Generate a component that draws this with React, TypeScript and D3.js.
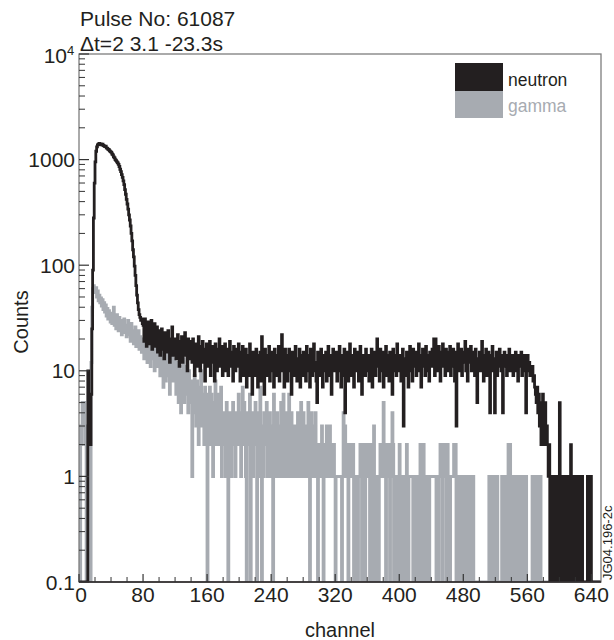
import React from 'react';
import * as d3 from 'd3';

// neutron counts per channel, 0..651
const neutron = [
  0, 0, 0, 0, 0, 0, 0, 0, 0, 0, 0, 10, 4, 3, 2, 6, 25, 90, 280, 600,
  950, 1200, 1320, 1380, 1400, 1420, 1390, 1410, 1380, 1400, 1360, 1350, 1330, 1340, 1290, 1280, 1250, 1240, 1210, 1190,
  1170, 1130, 1110, 1060, 1040, 1000, 980, 950, 930, 900, 860, 810, 770, 720, 680, 630, 580, 520, 470, 420,
  380, 340, 300, 268, 235, 200, 170, 140, 120, 98, 80, 64, 52, 44, 38, 34, 32, 30, 31, 28,
  27, 19, 31, 22, 17, 26, 29, 18, 24, 21, 30, 16, 25, 20, 28, 17, 23, 26, 15, 24,
  22, 14, 20, 25, 16, 19, 13, 23, 18, 21, 15, 24, 17, 12, 20, 18, 26, 14, 19, 16,
  20, 13, 18, 22, 15, 11, 19, 16, 21, 12, 17, 14, 23, 15, 18, 10, 20, 16, 13, 19,
  17, 12, 20, 14, 9, 16, 18, 11, 15, 21, 13, 10, 17, 14, 19, 12, 16, 8, 15, 18,
  11, 16, 13, 19, 9, 14, 17, 12, 15, 8, 18, 13, 10, 16, 14, 20, 11, 13, 17, 9,
  15, 12, 18, 10, 14, 16, 9, 13, 19, 11, 15, 12, 8, 17, 13, 10, 16, 14, 11, 18,
  12, 8, 15, 11, 17, 9, 13, 10, 16, 7, 12, 14, 9, 18, 11, 13, 6, 15, 10, 14,
  9, 16, 12, 7, 14, 11, 15, 8, 21, 10, 13, 6, 16, 12, 9, 14, 11, 17, 8, 13,
  15, 10, 12, 7, 16, 11, 14, 9, 13, 17, 8, 12, 15, 22, 10, 13, 7, 16, 11, 14,
  8, 13, 16, 10, 12, 6, 15, 11, 14, 9, 17, 12, 8, 13, 10, 16, 7, 14, 12, 9,
  15, 11, 13, 8, 17, 10, 12, 14, 7, 16, 11, 9, 13, 18, 10, 12, 8, 5, 15, 11,
  13, 9, 16, 11, 7, 14, 12, 10, 15, 8, 13, 17, 11, 9, 14, 6, 12, 16, 10, 13,
  11, 15, 8, 13, 10, 17, 12, 7, 14, 11, 9, 16, 4, 13, 10, 15, 8, 12, 18, 11,
  9, 14, 12, 7, 16, 10, 13, 11, 15, 8, 12, 17, 10, 6, 14, 11, 13, 9, 16, 12,
  10, 14, 8, 13, 11, 16, 7, 12, 15, 10, 9, 14, 20, 11, 13, 8, 16, 10, 12, 15,
  7, 13, 11, 17, 9, 12, 14, 8, 15, 11, 13, 6, 16, 10, 12, 14, 9, 18, 11, 13,
  10, 14, 8, 12, 16, 3, 13, 11, 9, 15, 12, 7, 14, 17, 10, 12, 8, 16, 11, 13,
  15, 9, 13, 11, 18, 10, 14, 7, 12, 16, 11, 13, 9, 17, 12, 10, 14, 8, 15, 12,
  11, 16, 13, 20, 9, 20, 12, 14, 10, 17, 13, 8, 15, 12, 18, 11, 14, 9, 16, 13,
  10, 15, 12, 17, 9, 14, 11, 16, 13, 8, 15, 3, 12, 18, 10, 14, 11, 16, 9, 13,
  12, 15, 19, 10, 14, 8, 16, 12, 13, 17, 10, 14, 11, 15, 9, 16, 12, 5, 13, 11,
  15, 10, 13, 19, 12, 8, 14, 11, 16, 9, 13, 15, 10, 4, 14, 12, 17, 10, 13, 4,
  12, 15, 9, 14, 11, 16, 13, 10, 14, 4, 12, 15, 11, 13, 9, 14, 12, 16, 10, 13,
  11, 14, 9, 13, 12, 15, 10, 13, 8, 14, 11, 12, 15, 9, 13, 11, 14, 10, 4, 12,
  14, 10, 12, 9, 11, 10, 11, 8, 9, 7, 6, 5, 7, 4, 6, 3, 5, 2, 4, 6,
  2, 3, 5, 2, 3, 2, 1, 2, 0, 1, 1, 0, 1, 1, 1, 0, 1, 1, 0, 1,
  5, 0, 1, 1, 0, 1, 0, 0, 1, 0, 1, 0, 0, 1, 2, 0, 0, 1, 1, 0,
  1, 0, 1, 1, 0, 1, 1, 0, 1, 0, 0, 0, 0, 0, 0, 1, 0, 0, 0, 1,
  0, 0, 0, 0, 0, 0, 0, 0, 0, 0, 0, 0,
];

// gamma counts per channel, 0..651
const gamma = [
  3, 0, 3, 2, 5, 4, 5, 3, 2, 0, 3, 0, 2, 5, 0, 12, 40, 60, 64, 58,
  55, 61, 50, 57, 46, 52, 44, 49, 41, 47, 38, 44, 36, 42, 33, 39, 31, 37, 34, 29,
  35, 28, 33, 40, 27, 31, 25, 34, 29, 24, 32, 26, 30, 22, 28, 25, 31, 23, 27, 21,
  26, 30, 22, 25, 19, 28, 21, 24, 18, 23, 26, 17, 22, 19, 24, 16, 21, 18, 15, 20,
  19, 13, 22, 15, 18, 12, 21, 14, 17, 11, 20, 15, 13, 18, 10, 16, 14, 19, 11, 15,
  14, 9, 16, 10, 13, 7, 15, 11, 8, 17, 12, 9, 14, 6, 12, 10, 15, 8, 11, 13,
  10, 6, 12, 8, 5, 11, 9, 4, 10, 7, 13, 5, 8, 11, 6, 9, 4, 10, 7, 5,
  8, 1, 7, 4, 9, 5, 3, 8, 6, 2, 7, 4, 10, 3, 6, 5, 2, 7, 4, 6,
  0, 5, 3, 7, 2, 6, 4, 1, 5, 3, 8, 2, 4, 6, 2, 5, 3, 7, 1, 4,
  2, 4, 3, 1, 5, 2, 0, 3, 4, 2, 1, 3, 5, 2, 3, 1, 4, 2, 3, 6,
  2, 4, 1, 3, 7, 2, 5, 3, 1, 0, 4, 2, 3, 6, 0, 2, 4, 1, 3, 2,
  5, 3, 0, 2, 4, 1, 7, 3, 0, 2, 1, 4, 3, 2, 5, 1, 3, 2, 4, 1,
  3, 2, 0, 6, 2, 1, 3, 4, 2, 1, 3, 2, 5, 1, 2, 6, 3, 1, 4, 2,
  1, 3, 6, 2, 1, 4, 2, 3, 1, 2, 3, 1, 2, 4, 1, 2, 3, 5, 1, 2,
  4, 1, 2, 3, 1, 2, 5, 1, 0, 2, 4, 1, 3, 2, 1, 4, 2, 1, 0, 2,
  1, 2, 1, 3, 1, 0, 2, 1, 1, 3, 1, 2, 1, 3, 1, 2, 2, 1, 2, 1,
  0, 1, 1, 1, 1, 1, 1, 1, 0, 1, 4, 2, 3, 1, 2, 1, 0, 1, 2, 2,
  2, 1, 2, 0, 1, 1, 0, 1, 0, 1, 1, 2, 1, 0, 2, 2, 1, 0, 1, 2,
  2, 1, 2, 0, 1, 2, 0, 1, 3, 0, 1, 0, 1, 1, 0, 1, 2, 2, 1, 2,
  5, 1, 2, 0, 2, 1, 2, 1, 0, 2, 1, 4, 2, 0, 1, 0, 1, 0, 1, 0,
  2, 0, 1, 0, 1, 1, 0, 1, 0, 2, 1, 0, 1, 1, 1, 1, 1, 0, 1, 0,
  1, 0, 1, 0, 1, 0, 2, 1, 2, 0, 2, 1, 0, 1, 0, 1, 1, 0, 1, 1,
  1, 1, 1, 1, 1, 1, 0, 1, 0, 1, 1, 2, 2, 0, 2, 2, 1, 2, 0, 1,
  2, 0, 1, 0, 1, 1, 1, 1, 2, 2, 2, 0, 1, 0, 1, 1, 0, 1, 0, 1,
  0, 1, 1, 0, 1, 0, 1, 1, 1, 0, 1, 0, 1, 0, 0, 0, 0, 0, 0, 0,
  0, 0, 0, 0, 0, 0, 0, 0, 0, 0, 0, 0, 1, 0, 1, 1, 0, 1, 0, 1,
  1, 0, 1, 0, 0, 0, 0, 0, 1, 0, 1, 1, 0, 1, 0, 1, 2, 0, 2, 1,
  0, 1, 0, 1, 1, 0, 1, 0, 1, 0, 0, 1, 0, 1, 1, 0, 1, 0, 1, 0,
  0, 0, 0, 0, 0, 0, 1, 0, 1, 1, 0, 1, 0, 1, 1, 0, 1, 0, 0, 0,
  0, 0, 0, 0, 0, 0, 0, 0, 0, 0, 0, 0, 0, 0, 0, 0, 0, 0, 0, 0,
  0, 0, 0, 0, 0, 0, 0, 0, 0, 0, 0, 0, 0, 0, 0, 0, 0, 0, 0, 0,
  0, 0, 0, 0, 0, 0, 0, 0, 0, 0, 0, 0, 0, 0, 0, 0, 0, 0, 0, 0,
  0, 0, 0, 0, 0, 0, 0, 0, 0, 0, 0, 0,
];

const xTicks = [0, 80, 160, 240, 320, 400, 480, 560, 640];
const yTicks = [0.1, 1, 10, 100, 1000];
const yTickLabels = ['0.1', '1', '10', '100', '1000'];

const font = 'Liberation Sans, Arial, Helvetica, sans-serif';
const black = '#231f20';
const grey = '#a7abb1';
const frameColor = '#7d7d7d';

const left = 79, right = 601, top = 54, bottom = 582;

const x = d3.scaleLinear().domain([0, 652]).range([left, right]);
const y = d3.scaleLog().domain([0.1, 1e4]).range([bottom, top]);

function histPath(vals: number[]) {
  const pts: [number, number][] = vals.map((v, i) => [i, Math.max(v, 0.1)]);
  pts.push([vals.length, Math.max(vals[vals.length - 1], 0.1)]);
  const line = d3.line<[number, number]>()
    .x(d => x(d[0]))
    .y(d => y(d[1]))
    .curve(d3.curveStepAfter);
  return line(pts) || '';
}

const App = () => {
  const minorX = d3.range(0, 641, 20).filter(v => v % 80 !== 0);
  const minorY: number[] = [];
  [-1, 0, 1, 2, 3].forEach(e => {
    for (let k = 2; k <= 9; k++) minorY.push(k * Math.pow(10, e));
  });

  return (
    <svg width={614} height={640} style={{ display: 'block', position: 'absolute', left: 0, top: 0 }}>
      <rect width={614} height={640} fill="white" />
      <defs>
        <clipPath id="plot">
          <rect x={left} y={top} width={right - left} height={bottom - top} />
        </clipPath>
      </defs>

      <g clipPath="url(#plot)">
        <path d={histPath(gamma)} fill="none" stroke={grey} strokeWidth={3} />
        <path d={histPath(neutron)} fill="none" stroke={black} strokeWidth={2.8} />
      </g>

      {/* frame */}
      <rect x={left} y={top} width={right - left} height={bottom - top} fill="none" stroke={frameColor} strokeWidth={1.3} />
      <line x1={left} x2={right} y1={bottom} y2={bottom} stroke={black} strokeWidth={1.5} />

      {/* y ticks */}
      {yTicks.concat([1e4]).map(v => (
        <line key={'ym' + v} x1={left} x2={left + 10} y1={y(v)} y2={y(v)} stroke="#333" strokeWidth={1.2} />
      ))}
      {minorY.map(v => (
        <line key={'yn' + v} x1={left} x2={left + 6} y1={y(v)} y2={y(v)} stroke="#333" strokeWidth={1} />
      ))}
      {yTicks.map((v, i) => (
        <text key={'yl' + v} x={left - 4} y={y(v) + 7.5} textAnchor="end" fontFamily={font} fontSize={21} fill={black}>
          {yTickLabels[i]}
        </text>
      ))}
      <text x={left - 12} y={y(1e4) + 9} textAnchor="end" fontFamily={font} fontSize={21} fill={black}>10</text>
      <text x={left - 12} y={y(1e4) + 1} textAnchor="start" fontFamily={font} fontSize={13} fill={black}>4</text>

      {/* x ticks */}
      {xTicks.map(v => (
        <line key={'xm' + v} x1={x(v)} x2={x(v)} y1={bottom} y2={bottom - 8} stroke="#333" strokeWidth={1.2} />
      ))}
      {minorX.map(v => (
        <line key={'xn' + v} x1={x(v)} x2={x(v)} y1={bottom} y2={bottom - 5} stroke="#333" strokeWidth={1} />
      ))}
      {xTicks.map(v => (
        <text key={'xl' + v} x={x(v) + (v === 0 ? 2 : 0)} y={602} textAnchor="middle" fontFamily={font} fontSize={21} fill={black}>
          {v}
        </text>
      ))}

      {/* titles */}
      <text x={80} y={26} fontFamily={font} fontSize={21} fill={black}>Pulse No: 61087</text>
      <text x={80} y={51} fontFamily={font} fontSize={21} fill={black}>Δt=2 3.1 -23.3s</text>
      <text x={340} y={637} textAnchor="middle" fontFamily={font} fontSize={20} fill={black}>channel</text>
      <text transform="translate(28,322) rotate(-90)" textAnchor="middle" fontFamily={font} fontSize={20} fill={black}>Counts</text>
      <text transform="translate(612,580) rotate(-90)" textAnchor="start" fontFamily={font} fontSize={13} fill={black}>JG04.196-2c</text>

      {/* legend */}
      <rect x={455} y={63} width={48} height={28} fill={black} />
      <rect x={455} y={91} width={48} height={27} fill={grey} />
      <text x={508} y={86} fontFamily={font} fontSize={17.5} fill={black}>neutron</text>
      <text x={508} y={112} fontFamily={font} fontSize={17.5} fill={grey}>gamma</text>
    </svg>
  );
};

export default App;
